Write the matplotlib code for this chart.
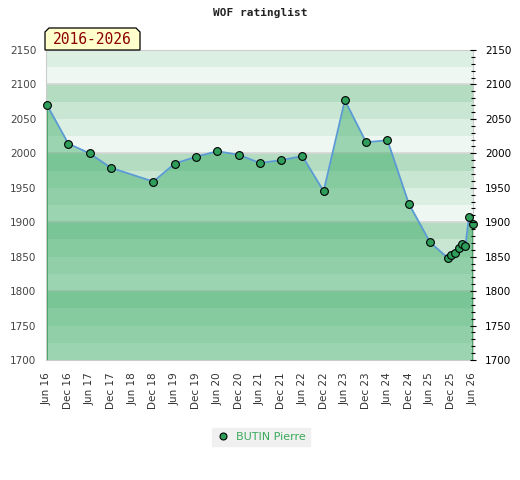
import pandas as pd
import matplotlib
matplotlib.use("Agg")
import matplotlib.pyplot as plt
import matplotlib.dates as mdates
from matplotlib.patches import Polygon
from matplotlib.lines import Line2D

# rating list dates and values
dates = ["2016-06-01", "2016-12-01", "2017-06-01", "2017-12-01", "2018-12-01",
         "2019-06-01", "2019-12-01", "2020-06-01", "2020-12-01", "2021-06-01",
         "2021-12-01", "2022-06-01", "2022-12-01", "2023-06-01", "2023-12-01",
         "2024-06-01", "2024-12-01", "2025-06-01", "2025-11-01", "2025-12-01",
         "2026-01-01", "2026-02-01", "2026-03-01", "2026-04-01", "2026-05-01",
         "2026-06-01"]
ratings = [2070, 2014, 2000, 1979, 1959, 1985, 1995, 2003, 1998, 1986,
           1990, 1996, 1945, 2077, 2016, 2019, 1927, 1871, 1848, 1853,
           1855, 1863, 1869, 1866, 1907, 1898]
player = "BUTIN Pierre"
period = "2016-2026"
title = "WOF ratinglist"
y_min, y_max = 1700, 2150

W, H = 520, 480
x = mdates.date2num(pd.to_datetime(dates))

fig = plt.figure(figsize=(W / 100, H / 100), dpi=100)
ax = fig.add_axes([46 / W, 120 / H, 427 / W, 310 / H])

# striped background, darker towards the top of each 100 block
band_colors = ["#eef7f1", "#dcefe3", "#c9e6d3", "#b3dcc1"]
for i, lo in enumerate(range(y_min, y_max, 25)):
    ax.axhspan(lo, lo + 25, color=band_colors[i % 4], lw=0, zorder=0)
for lvl in range(1800, y_max, 100):
    ax.axhline(lvl, color="#d6d6d6", lw=1.2, zorder=1)

ax.fill_between(x, ratings, y_min, color="#32a85f", alpha=0.44, lw=0, zorder=2)
ax.vlines([x[0], x[-1]], y_min, [ratings[0], ratings[-1]], color="#3a9f5c", lw=1.3, zorder=2)
ax.plot(x, ratings, color="#5b9bd5", lw=1.3, zorder=3)
ax.plot(x, ratings, "o", ms=5.6, mfc="#2e9e5a", mec="black", mew=0.8, zorder=4, clip_on=False)

ax.set_xlim(x[0] - 9, x[-1] + 4)
ax.set_ylim(y_min, y_max)

ticks = pd.date_range("2016-06-01", "2026-06-01", freq="6MS")
ax.set_xticks(mdates.date2num(ticks))
ax.set_xticklabels([t.strftime("%b %y") for t in ticks], rotation=90,
                   fontsize=7.5, color="#333333")
ax.tick_params(axis="x", length=0, pad=9)
ax.set_yticks(range(y_min, y_max + 1, 50))
ax.tick_params(axis="y", length=0, pad=7, labelsize=7.5, labelcolor="#444444")
for s in ax.spines.values():
    s.set_color("#cccccc")

ax2 = ax.twinx()
ax2.set_ylim(y_min, y_max)
ax2.set_yticks(range(y_min, y_max + 1, 50))
ax2.set_yticks(range(y_min, y_max + 1, 10), minor=True)
ax2.tick_params(axis="y", which="major", direction="inout", length=5, width=0.8,
                pad=6, labelsize=7.5, labelcolor="black")
ax2.tick_params(axis="y", which="minor", direction="inout", length=3, width=0.8)
for s in ax2.spines.values():
    s.set_visible(False)

fig.text(0.5, 1 - 13 / H, title, ha="center", va="center", family="DejaVu Sans Mono",
         weight="bold", fontsize=8, color="#222222")

# period tag with clipped top corners
pts = [(45, 50), (45, 32), (49, 28), (136, 28), (140, 32), (140, 50)]
fig.patches.append(Polygon([(px / W, 1 - py / H) for px, py in pts], closed=True,
                           transform=fig.transFigure, facecolor="#ffffcc",
                           edgecolor="black", lw=0.9, zorder=5))
fig.text(92.5 / W, 1 - 39.5 / H, period, ha="center", va="center",
         family="DejaVu Sans Mono", fontsize=10.5, color="#8b0000", zorder=6)

handle = Line2D([], [], marker="o", ls="none", ms=5, mfc="#2e9e5a", mec="black", mew=0.8)
leg = fig.legend([handle], [player], loc="center", bbox_to_anchor=(261 / W, 1 - 437 / H),
                 frameon=True, fancybox=False, facecolor="#f0f0f0", edgecolor="#f0f0f0",
                 fontsize=8, labelcolor="#3aaa5c", handletextpad=0.6, borderpad=0.4,
                 handlelength=1.2)
leg.get_frame().set_alpha(1)

fig.savefig("out.png", dpi=100)
